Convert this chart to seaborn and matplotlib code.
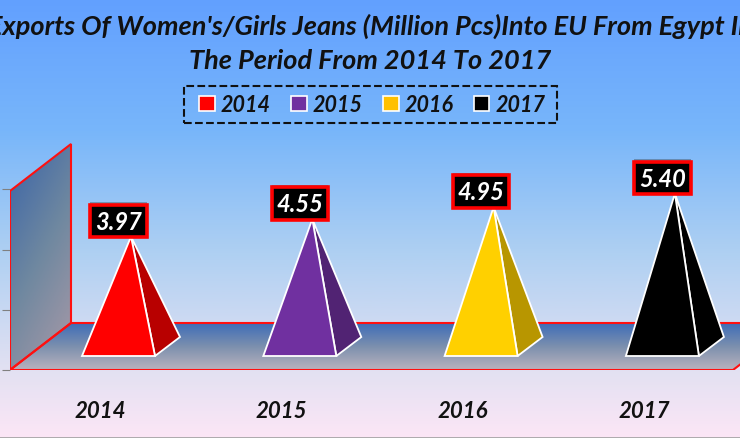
"""Exports of women's/girls jeans - pyramid chart"""
# Imports
import numpy as np
import pandas as pd
import matplotlib.pyplot as plt
import seaborn as sns
from matplotlib.colors import LinearSegmentedColormap, to_rgb
from matplotlib.patches import Patch, Polygon, Rectangle
from matplotlib.patheffects import withSimplePatchShadow

# Data
years = ['2014', '2015', '2016', '2017']
values = [3.97, 4.55, 4.95, 5.40]
value_labels = ['3.97', '4.55', '4.95', '5.40']
colors = ['#FF0000', '#7030A0', '#FFD000', '#000000']
legend_colors = ['#FF0000', '#7030A0', '#FFC000', '#000000']
y_ticks = [0, 2, 4, 6]
title = ("Exports Of Women's/Girls Jeans (Million Pcs)Into EU From Egypt In\n"
         "The Period From 2014 To 2017")

# Layout, in pixels of the 740x439 picture
W, H = 740, 439
PX_PER_UNIT = 30.1
PX_PER_CAT = 181.3
FIRST_X = 118.5
FLOOR_Y = 371
BAR_LIFT = 14
DEPTH_X, DEPTH_Y = 25, 19

sns.set_theme(style='white')
plt.rcParams['font.family'] = ['Lato', 'DejaVu Sans']
plt.rcParams['font.weight'] = 'bold'
plt.rcParams['font.style'] = 'italic'

fig = plt.figure(figsize=(W / 100, H / 100), dpi=100)


def data_x(px):
    return (px - FIRST_X) / PX_PER_CAT


def data_y(py):
    return (FLOOR_Y - py) / PX_PER_UNIT


def gradient_poly(axis, points, stops, angle=0.0):
    """Polygon (pixel corners) filled with a gradient, angle tilts it sideways"""
    xy = [(data_x(a), data_y(b)) for a, b in points]
    xs, ys = zip(*xy)
    grid_x, grid_y = np.meshgrid(np.linspace(0, 1, 64), np.linspace(0, 1, 64))
    cmap = LinearSegmentedColormap.from_list('g', stops)
    img = axis.imshow((grid_y + angle * grid_x) / (1 + angle), cmap=cmap, aspect='auto',
                      extent=(min(xs), max(xs), min(ys), max(ys)), zorder=1, origin='upper')
    clip = Polygon(xy, closed=True, transform=axis.transData)
    img.set_clip_path(clip)
    axis.add_patch(Polygon(xy, closed=True, fill=False, edgecolor='#FF1010', lw=1.5,
                           zorder=2, clip_on=True))


# Background
bg = fig.add_axes([0, 0, 1, 1], zorder=0)
bg_cmap = LinearSegmentedColormap.from_list('bg', [(0.0, '#62A0FF'), (0.30, '#78B6FA'),
                                                   (0.58, '#AFD0F2'), (0.85, '#E3E1F2'),
                                                   (1.0, '#FCE6F6')])
bg.imshow(np.linspace(0, 1, 256).reshape(-1, 1), cmap=bg_cmap, aspect='auto')
bg.set_xticks([])
bg.set_yticks([])
for side, spine in bg.spines.items():
    spine.set_visible(side in ('top', 'bottom'))
    spine.set_color('#A0A0A0')
    spine.set_linewidth(1.2)

# Chart axes: bottom edge is the front of the floor
ax = fig.add_axes([10 / W, (H - FLOOR_Y) / H, (W - 10) / W, FLOOR_Y / H], zorder=1)
ax.patch.set_alpha(0)
frame = pd.DataFrame({'Year': years, 'Value': values})
sns.barplot(frame, x='Year', y='Value', hue='Year', palette=colors, legend=False,
            width=73 / PX_PER_CAT, bottom=BAR_LIFT / PX_PER_UNIT, ax=ax)
bars = list(ax.patches)

# Wall and floor
gradient_poly(ax, [(10, 371), (71, 324), (794, 324), (733, 371)],
              ['#3F6DB8', '#7C90AE', '#B9B2BE'])
gradient_poly(ax, [(10, 371), (10, 192), (71, 145), (71, 324)],
              ['#3A64A8', '#6F88A0', '#AA9AA8'], angle=0.5)

# Pyramids, built on the bars seaborn placed
dx = DEPTH_X / PX_PER_CAT
dy = DEPTH_Y / PX_PER_UNIT
for bar, label, color in zip(bars, value_labels, colors):
    left, right = bar.get_x(), bar.get_x() + bar.get_width()
    base, tip = bar.get_y(), bar.get_y() + bar.get_height()
    mid = (left + right) / 2
    apex = (mid + dx / 2, tip)
    side_color = tuple(c * 0.72 for c in to_rgb(color))
    ax.add_patch(Polygon([(right, base), (right + dx, base + dy), apex], closed=True,
                         facecolor=side_color, edgecolor='white', lw=1.3, zorder=3))
    ax.add_patch(Polygon([(left, base), (right, base), apex], closed=True,
                         facecolor=color, edgecolor='white', lw=1.3, zorder=4))
    txt = ax.text(mid, tip + 0.13, label, color='white', fontsize=17, ha='center', va='bottom',
                  zorder=6, bbox=dict(boxstyle='square,pad=0.2', facecolor='black',
                                      edgecolor='#FF0000', lw=2.6))
    txt.get_bbox_patch().set_path_effects([
        withSimplePatchShadow(offset=(0, 2), shadow_rgbFace='#303030', alpha=0.35)])
    bar.set_visible(False)

# Axes
ax.set_xlim(data_x(10), data_x(W))
ax.set_ylim(0, FLOOR_Y / PX_PER_UNIT)
ax.set_yticks(y_ticks, labels=[])
ax.set_xticks([i - 18.5 / PX_PER_CAT for i in range(len(years))], labels=years)
ax.tick_params(axis='y', left=True, length=5.8, width=0.8, color='#808080')
ax.tick_params(axis='x', bottom=False, pad=15.5, labelsize=16, labelcolor='#111111')
ax.set_xlabel('')
ax.set_ylabel('')
for spine in ax.spines.values():
    spine.set_visible(False)

# Legend
handles = [Patch(facecolor=c, edgecolor='white', lw=1.2, label=y)
           for c, y in zip(legend_colors, years)]
legend = ax.legend(handles=handles, ncol=4, loc='center', frameon=False, fontsize=15.5,
                   bbox_to_anchor=((372.5 - 10) / (W - 10), 1 - 105.5 / FLOOR_Y),
                   handlelength=0.72, handleheight=0.72, handletextpad=0.3,
                   columnspacing=0.93, borderpad=0, labelcolor='#111111')
ax.add_patch(Rectangle((data_x(184), data_y(124)), data_x(557) - data_x(184),
                       data_y(87) - data_y(124), fill=False, edgecolor='#111111',
                       linestyle='--', lw=1.5, zorder=5))

# Title
fig.text(0.5, 1 - 43.5 / H, title, ha='center', va='center', fontsize=19.5, color='#111111',
         linespacing=1.5, zorder=5)

plt.savefig('out.png', dpi=100)
